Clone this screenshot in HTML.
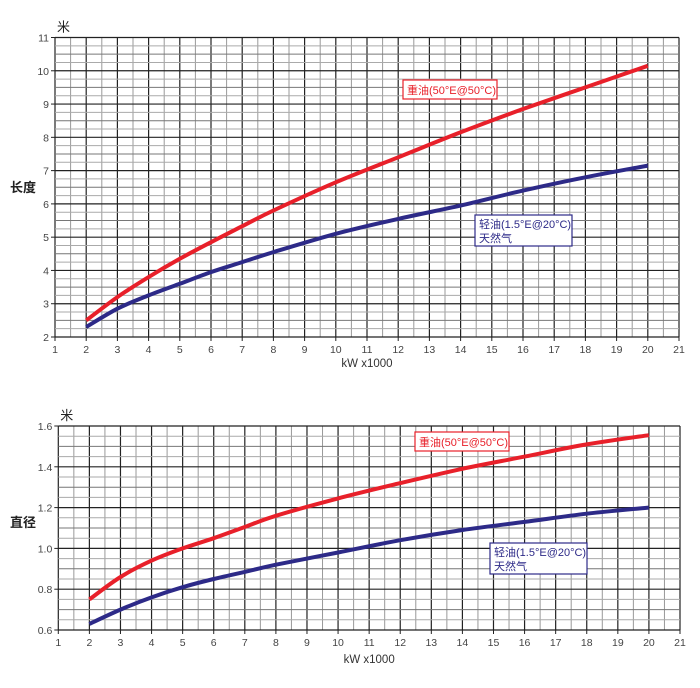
<!DOCTYPE html>
<html><head><meta charset="utf-8"><style>
body{margin:0;background:#fff;width:700px;height:688px;overflow:hidden}
svg{display:block;font-family:"Liberation Sans","Noto Sans CJK SC",sans-serif}
</style></head><body>
<svg id="s" width="700" height="688" xmlns="http://www.w3.org/2000/svg"></svg>
<script>
const s=document.getElementById('s');let h='';
function chart(x0,x1,yTop,yBot,ymin,ymax,ystep,ysub,ylabels,red,blue,ylab,ylabY,axY,boxR,boxB){
  const X=v=>x0+(v-1)*(x1-x0)/20, Y=v=>yBot-(v-ymin)*(yBot-yTop)/(ymax-ymin);
  for(let i=0;i<=40;i++){const v=1+i/2,x=X(v);const major=i%2==0;
    h+=`<line x1="${x}" y1="${yTop}" x2="${x}" y2="${yBot}" stroke="${major?'#222':'#999'}" stroke-width="${major?1.2:1}"/>`;}
  const n=Math.round((ymax-ymin)/ystep*ysub);
  for(let i=0;i<=n;i++){const v=ymin+i*ystep/ysub,y=Y(v);const major=i%ysub==0;const mid=ysub==4&&i%ysub==2;
    h+=`<line x1="${x0}" y1="${y}" x2="${x1}" y2="${y}" stroke="${major?'#222':(mid?'#777':'#aaa')}" stroke-width="${major?1.2:1}"/>`;}
  for(let i=1;i<=21;i++){h+=`<line x1="${X(i)}" y1="${yBot}" x2="${X(i)}" y2="${yBot+4}" stroke="#222"/><text x="${X(i)}" y="${yBot+16}" font-size="10.5" text-anchor="middle" fill="#444">${i}</text>`;}
  ylabels.forEach((t,i)=>{const y=Y(ymin+i*ystep);h+=`<line x1="${x0-4}" y1="${y}" x2="${x0}" y2="${y}" stroke="#222"/><text x="${x0-6}" y="${y+4}" font-size="10.5" text-anchor="end" fill="#444">${t}</text>`;});
  const path=(d,c)=>{const P=d.map(q=>[X(q[0]),Y(q[1])]);let p='M'+P[0][0].toFixed(1)+','+P[0][1].toFixed(1);
    for(let i=0;i<P.length-1;i++){const a=P[Math.max(i-1,0)],b=P[i],c2=P[i+1],e=P[Math.min(i+2,P.length-1)];
      const c1x=b[0]+(c2[0]-a[0])/6,c1y=b[1]+(c2[1]-a[1])/6,c3x=c2[0]-(e[0]-b[0])/6,c3y=c2[1]-(e[1]-b[1])/6;
      p+=`C${c1x.toFixed(1)},${c1y.toFixed(1)} ${c3x.toFixed(1)},${c3y.toFixed(1)} ${c2[0].toFixed(1)},${c2[1].toFixed(1)}`;}
    h+=`<path d="${p}" fill="none" stroke="${c}" stroke-width="4" stroke-linejoin="round"/>`;};
  path(red,'#e8202a');path(blue,'#2d2a88');
  h+=`<text x="${x0+2}" y="${yTop-6}" font-size="13" fill="#222">米</text>`;
  h+=`<text x="10" y="${ylabY}" font-size="13" font-weight="bold" fill="#222">${ylab}</text>`;
  h+=`<text x="${X(11)}" y="${axY}" font-size="11.5" text-anchor="middle" fill="#333">kW x1000</text>`;
  h+=`<rect x="${boxR[0]}" y="${boxR[1]}" width="94" height="19" fill="#fff" stroke="#e8202a" stroke-width="1.2"/><text x="${boxR[0]+4}" y="${boxR[1]+14}" font-size="11" fill="#e8202a">重油(50°E@50°C)</text>`;
  h+=`<rect x="${boxB[0]}" y="${boxB[1]}" width="97" height="31" fill="#fff" stroke="#2d2a88" stroke-width="1.2"/><text x="${boxB[0]+4}" y="${boxB[1]+13}" font-size="11" fill="#2d2a88">轻油(1.5°E@20°C)</text><text x="${boxB[0]+4}" y="${boxB[1]+27}" font-size="11" fill="#2d2a88">天然气</text>`;
}
chart(55,679,37.5,337,2,11,1,4,['2','3','4','5','6','7','8','9','10','11'],
 [[2,2.5],[3,3.2],[4,3.8],[5,4.35],[6,4.85],[7,5.33],[8,5.8],[10,6.65],[12,7.4],[14,8.15],[16,8.85],[18,9.5],[20,10.15]],
 [[2,2.3],[3,2.85],[4,3.25],[5,3.6],[6,3.95],[7,4.25],[8,4.55],[10,5.1],[12,5.55],[14,5.95],[16,6.4],[18,6.8],[20,7.15]],
 '长度',192,367,[403,80],[475,215]);
chart(58.3,680,426,630,0.6,1.6,0.2,4,['0.6','0.8','1.0','1.2','1.4','1.6'],
 [[2,0.75],[3,0.86],[4,0.94],[5,1.0],[6,1.05],[7,1.105],[8,1.16],[10,1.245],[12,1.32],[14,1.39],[16,1.45],[18,1.51],[20,1.555]],
 [[2,0.63],[3,0.70],[4,0.76],[5,0.81],[6,0.85],[7,0.885],[8,0.92],[10,0.98],[12,1.04],[14,1.09],[16,1.13],[18,1.17],[20,1.20]],
 '直径',527,663,[415,432],[490,543]);
s.innerHTML=h;
</script>
</body></html>
